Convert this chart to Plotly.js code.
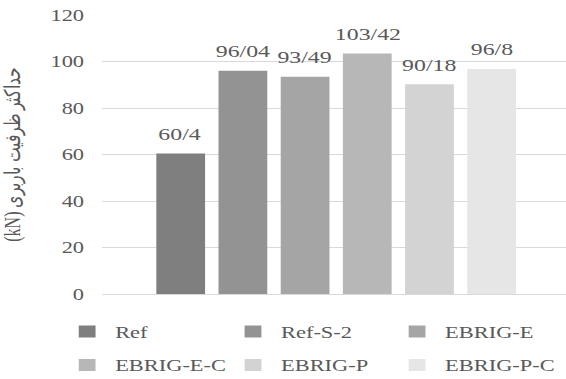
<!DOCTYPE html>
<html>
<head>
<meta charset="utf-8">
<script src="https://cdn.plot.ly/plotly-3.0.1.min.js"></script>
<style>
html,body{margin:0;padding:0;overflow:hidden;background:#fff;width:566px;height:379px;}
#wrap{width:404px;height:379px;transform:scaleX(1.401);transform-origin:0 0;}
</style>
</head>
<body>
<div id="wrap"><div id="chart" style="width:404px;height:379px;"></div></div>
<script>
// Data
const seriesNames = ["Ref", "Ref-S-2", "EBRIG-E", "EBRIG-E-C", "EBRIG-P", "EBRIG-P-C"];
const seriesValues = [60.4, 96.04, 93.49, 103.42, 90.18, 96.8];
const valueLabels = ["60/4", "96/04", "93/49", "103/42", "90/18", "96/8"];
const yTickValues = [0, 20, 40, 60, 80, 100, 120];
const yTitle = "حداکثر ظرفیت باربری (kN)";

// Styles
const colors = ["#7f7f7f", "#939393", "#a5a5a5", "#b7b7b7", "#d3d3d3", "#e6e6e6"];
const txt = "#595959";
const fam = "Liberation Serif, Times New Roman, serif";
const W = 404, H = 379;
const legendColX = [42.2, 160.6, 277.7];   // px, unscaled
const legendRowY = [331.5, 365];           // px from top

const legendIds = seriesNames.map((n, i) => i === 0 ? "legend" : "legend" + (i + 1));

const traces = seriesNames.map((n, i) => ({
  type: "bar",
  name: n,
  x: [n],
  y: [seriesValues[i]],
  marker: {color: colors[i]},
  legend: legendIds[i],
  hoverinfo: "skip"
}));

const annotations = seriesNames.map((n, i) => ({
  x: n, y: seriesValues[i], xref: "x", yref: "y",
  text: valueLabels[i], showarrow: false,
  yanchor: "middle", yshift: 19,
  font: {family: fam, size: 17, color: txt}
}));

const layout = {
  width: W, height: H,
  margin: {l: 73, r: 0, t: 15, b: 85},
  paper_bgcolor: "#fff", plot_bgcolor: "#fff",
  font: {family: fam, color: txt},
  barmode: "overlay",
  bargap: 0.216,
  showlegend: true,
  xaxis: {
    type: "category",
    categoryorder: "array", categoryarray: seriesNames,
    range: [-1.261, 6.195],
    showticklabels: false, ticks: "", showgrid: false,
    zeroline: false, showline: false, fixedrange: true
  },
  yaxis: {
    range: [0, 120],
    tickvals: yTickValues,
    ticktext: yTickValues.map(String),
    ticks: "", ticklabelstandoff: 12,
    showgrid: true, gridcolor: "#d9d9d9", gridwidth: 1,
    zeroline: true, zerolinecolor: "#d9d9d9", zerolinewidth: 1,
    showline: false,
    tickfont: {family: fam, size: 16, color: txt},
    title: {text: "\u202B" + yTitle + "\u202C", standoff: 17, font: {family: fam, size: 16, color: txt}},
    automargin: false, fixedrange: true
  },
  annotations: annotations
};

legendIds.forEach((id, i) => {
  layout[id] = {
    orientation: "h", xref: "container", yref: "container",
    xanchor: "left", yanchor: "middle",
    x: legendColX[i % 3] / W,
    y: 1 - legendRowY[Math.floor(i / 3)] / H,
    font: {family: fam, size: 16, color: txt},
    bgcolor: "rgba(0,0,0,0)", borderwidth: 0
  };
});

Plotly.newPlot("chart", traces, layout, {displayModeBar: false, staticPlot: true});
</script>
</body>
</html>
